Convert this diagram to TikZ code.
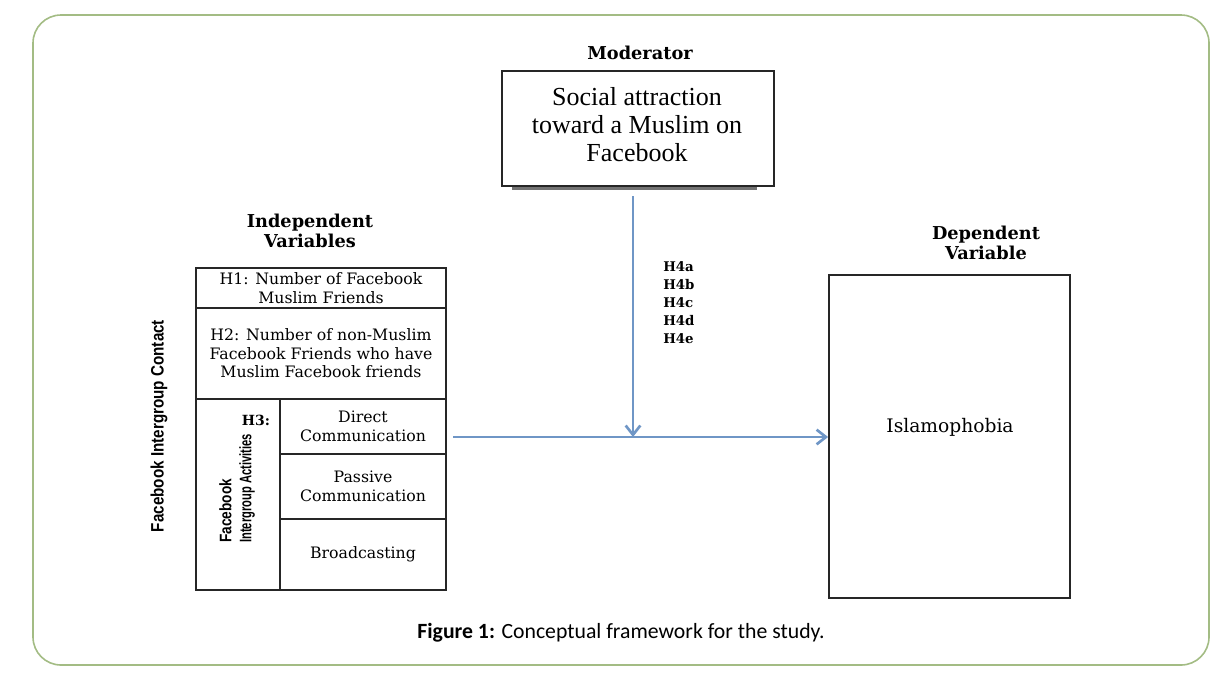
\documentclass[tikz,border=0pt]{standalone}
\usepackage{fontspec}
\setmainfont{Liberation Serif}
\newfontfamily\centfont{DejaVu Serif}
\newfontfamily\sansfont{Liberation Sans}
\newfontfamily\capfont{Carlito}
\usetikzlibrary{arrows.meta}
\definecolor{frameg}{HTML}{A3BC84}
\definecolor{arrowb}{HTML}{6F96C6}
\tikzset{
  hdr/.style={font=\centfont\bfseries\fontsize{13.3}{14.5}\selectfont, align=center, inner sep=0pt},
  cell/.style={draw=black!85, line width=1.1pt, inner sep=0pt, align=center,
    font=\centfont\fontsize{11.8}{13.8}\selectfont},
  arr/.style={draw=arrowb, line width=2.2pt, -{Straight Barb[length=7pt,width=11pt,line width=2pt]}},
  hlab/.style={font=\centfont\bfseries\fontsize{10}{13.5}\selectfont, align=left, inner sep=0pt, anchor=west},
  rot/.style={rotate=90, inner sep=0pt, font=\sansfont\bfseries},
}
\begin{document}
\begin{tikzpicture}[x=0.75pt,y=-0.75pt]
\useasboundingbox (0,0) rectangle (1230,682);
% frame
\draw[frameg, line width=1.2pt, rounded corners=21pt] (33,15) rectangle (1209,665);

% moderator
\node[hdr] (modlbl) at (640,53) {Moderator};
\fill[black!55] (512,186) rectangle (757,190);
\node[draw=black!85, fill=white, line width=1.1pt, minimum width=204pt, minimum height=86.25pt,
  inner sep=0pt] (modbox) at (638,128.5) {};
\node[align=center, inner sep=0pt, font=\fontsize{19.5}{21}\selectfont] (modtxt) at (637,125)
  {Social attraction\\toward a Muslim on\\Facebook};

% independent
\node[hdr] (indlbl) at (310,231) {Independent\\Variables};
\node[cell, minimum width=187.5pt, minimum height=30pt] (h1) at (321,288)
  {H1: Number of Facebook\\Muslim Friends};
\node[cell, minimum width=187.5pt, minimum height=68.25pt] (h2) at (321,353.5)
  {H2: Number of non-Muslim\\Facebook Friends who have\\Muslim Facebook friends};
\node[cell, minimum width=63pt, minimum height=143.25pt] (h3cell) at (238,494.5) {};
\node[cell, minimum width=124.5pt, minimum height=41.25pt] (direct) at (363,426.5)
  {Direct\\Communication};
\node[cell, minimum width=124.5pt, minimum height=48.75pt] (passive) at (363,486.5)
  {Passive\\Communication};
\node[cell, minimum width=124.5pt, minimum height=53.25pt] (broad) at (363,554.5)
  {Broadcasting};
\node[font=\centfont\bfseries\fontsize{10.5}{12}\selectfont, inner sep=0pt] (h3) at (256,420) {H3:};
\node[rot, align=left, anchor=west, font=\sansfont\bfseries\fontsize{12.5}{15}\selectfont] (fia) at (237,543)
  {\scalebox{0.82}[1]{Facebook}\\\scalebox{0.67}[1]{Intergroup Activities}};
\node[rot, font=\sansfont\bfseries\fontsize{13.5}{16}\selectfont] (fic) at (159,426)
  {\scalebox{0.845}[1]{Facebook Intergroup Contact}};

% dependent
\node[hdr] (deplbl) at (986,243) {Dependent\\Variable};
\node[draw=black!85, line width=1.1pt, minimum width=181pt, minimum height=242.25pt, inner sep=0pt]
  (dep) at (949.5,436.5) {};
\node[font=\centfont\fontsize{14}{16}\selectfont, inner sep=0pt] (islam) at (950,427) {Islamophobia};

% hypotheses labels
\node[hlab] (h4) at (663,302.5) {H4a\\H4b\\H4c\\H4d\\H4e};

% arrows
\coordinate (junc) at (633,437);
\coordinate (hstart) at (453,437);
\draw[arr] (hstart) -- (hstart -| dep.west);
\draw[arr, shorten <=7pt] (modbox.south -| junc) -- (junc);

% caption
\node[font=\capfont\fontsize{16.3}{19}\selectfont, inner sep=0pt] (cap) at (621,633)
  {\textbf{Figure 1:} Conceptual framework for the study.};
\end{tikzpicture}
\end{document}
